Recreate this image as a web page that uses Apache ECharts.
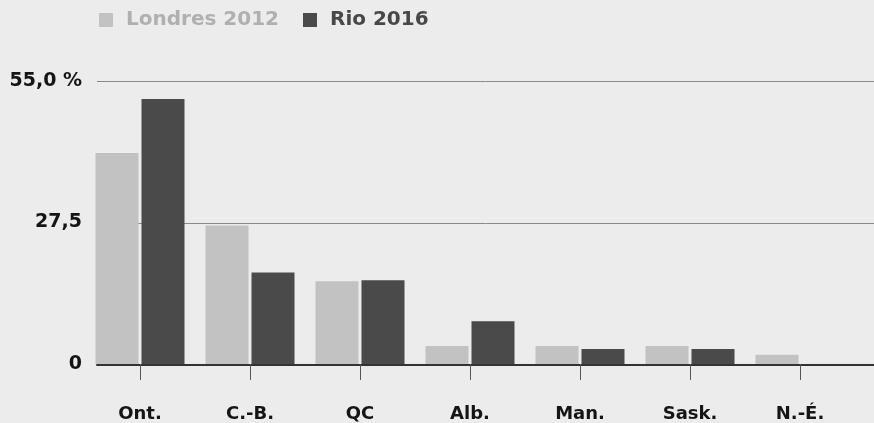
<!DOCTYPE html>
<html>
<head>
<meta charset="utf-8">
<script src="https://cdn.jsdelivr.net/npm/echarts@6/dist/echarts.min.js"></script>
<style>
html,body{margin:0;padding:0;background:#ececec;}
#c{width:874px;height:423px;}
</style>
</head>
<body>
<div id="c"></div>
<script>
var categories = ['Ont.', 'C.-B.', 'QC', 'Alb.', 'Man.', 'Sask.', 'N.-É.'];
var londres2012 = [41.0, 26.9, 16.1, 3.5, 3.5, 3.5, 1.8];
var rio2016 = [51.5, 17.8, 16.3, 8.3, 2.9, 2.9, 0];
var seriesNames = ['Londres 2012', 'Rio 2016'];
var yTicks = {0: '0', 27.5: '27,5', 55: '55,0 %'};

var chart = echarts.init(document.getElementById('c'), null, {renderer: 'canvas'});
var fontFam = '"DejaVu Sans", sans-serif';
chart.setOption({
  backgroundColor: '#ececec',
  animation: false,
  legend: {
    left: 94, top: 5,
    itemWidth: 14, itemHeight: 14, itemGap: 24,
    icon: 'rect',
    data: [
      {name: seriesNames[0], textStyle: {color: '#b0b0b0'}},
      {name: seriesNames[1], textStyle: {color: '#484848'}}
    ],
    textStyle: {fontFamily: fontFam, fontWeight: 'bold', fontSize: 20, padding: [0, 0, 0, 8]}
  },
  grid: [
    {left: 85, right: 19, top: 81, bottom: 58},
    {left: 97, right: 0, top: 81, bottom: 58}
  ],
  xAxis: [
    {
      type: 'category', gridIndex: 0, data: categories,
      offset: 11,
      axisLine: {show: false},
      axisTick: {show: true, alignWithLabel: true, length: 16, lineStyle: {color: '#555', width: 1}},
      axisLabel: {margin: 30, color: '#151515', fontFamily: fontFam, fontWeight: 'bold', fontSize: 18}
    },
    {
      type: 'value', gridIndex: 1, min: 0, max: 1,
      axisLine: {show: true, lineStyle: {color: '#333', width: 2}},
      axisTick: {show: false}, axisLabel: {show: false}, splitLine: {show: false}
    }
  ],
  yAxis: [
    {
      type: 'value', gridIndex: 0, min: 0, max: 55, interval: 27.5,
      axisLine: {show: false}, axisTick: {show: false}, splitLine: {show: false},
      axisLabel: {
        margin: 3, color: '#151515', fontFamily: fontFam, fontWeight: 'bold', fontSize: 19,
        formatter: function (v) { return yTicks[v] !== undefined ? yTicks[v] : ''; }
      }
    },
    {
      type: 'value', gridIndex: 1, min: 0, max: 55, interval: 27.5,
      axisLine: {show: false}, axisTick: {show: false}, axisLabel: {show: false},
      splitLine: {show: true, lineStyle: {color: '#8a8a8a', width: 1}}
    }
  ],
  series: [
    {
      name: seriesNames[0], type: 'bar', xAxisIndex: 0, yAxisIndex: 0,
      data: londres2012, barWidth: 43, barGap: '7%', z: 3,
      itemStyle: {color: '#c2c2c2'}
    },
    {
      name: seriesNames[1], type: 'bar', xAxisIndex: 0, yAxisIndex: 0,
      data: rio2016, barWidth: 43, barGap: '7%', z: 3,
      itemStyle: {color: '#4a4a4a'}
    }
  ]
});
</script>
</body>
</html>
